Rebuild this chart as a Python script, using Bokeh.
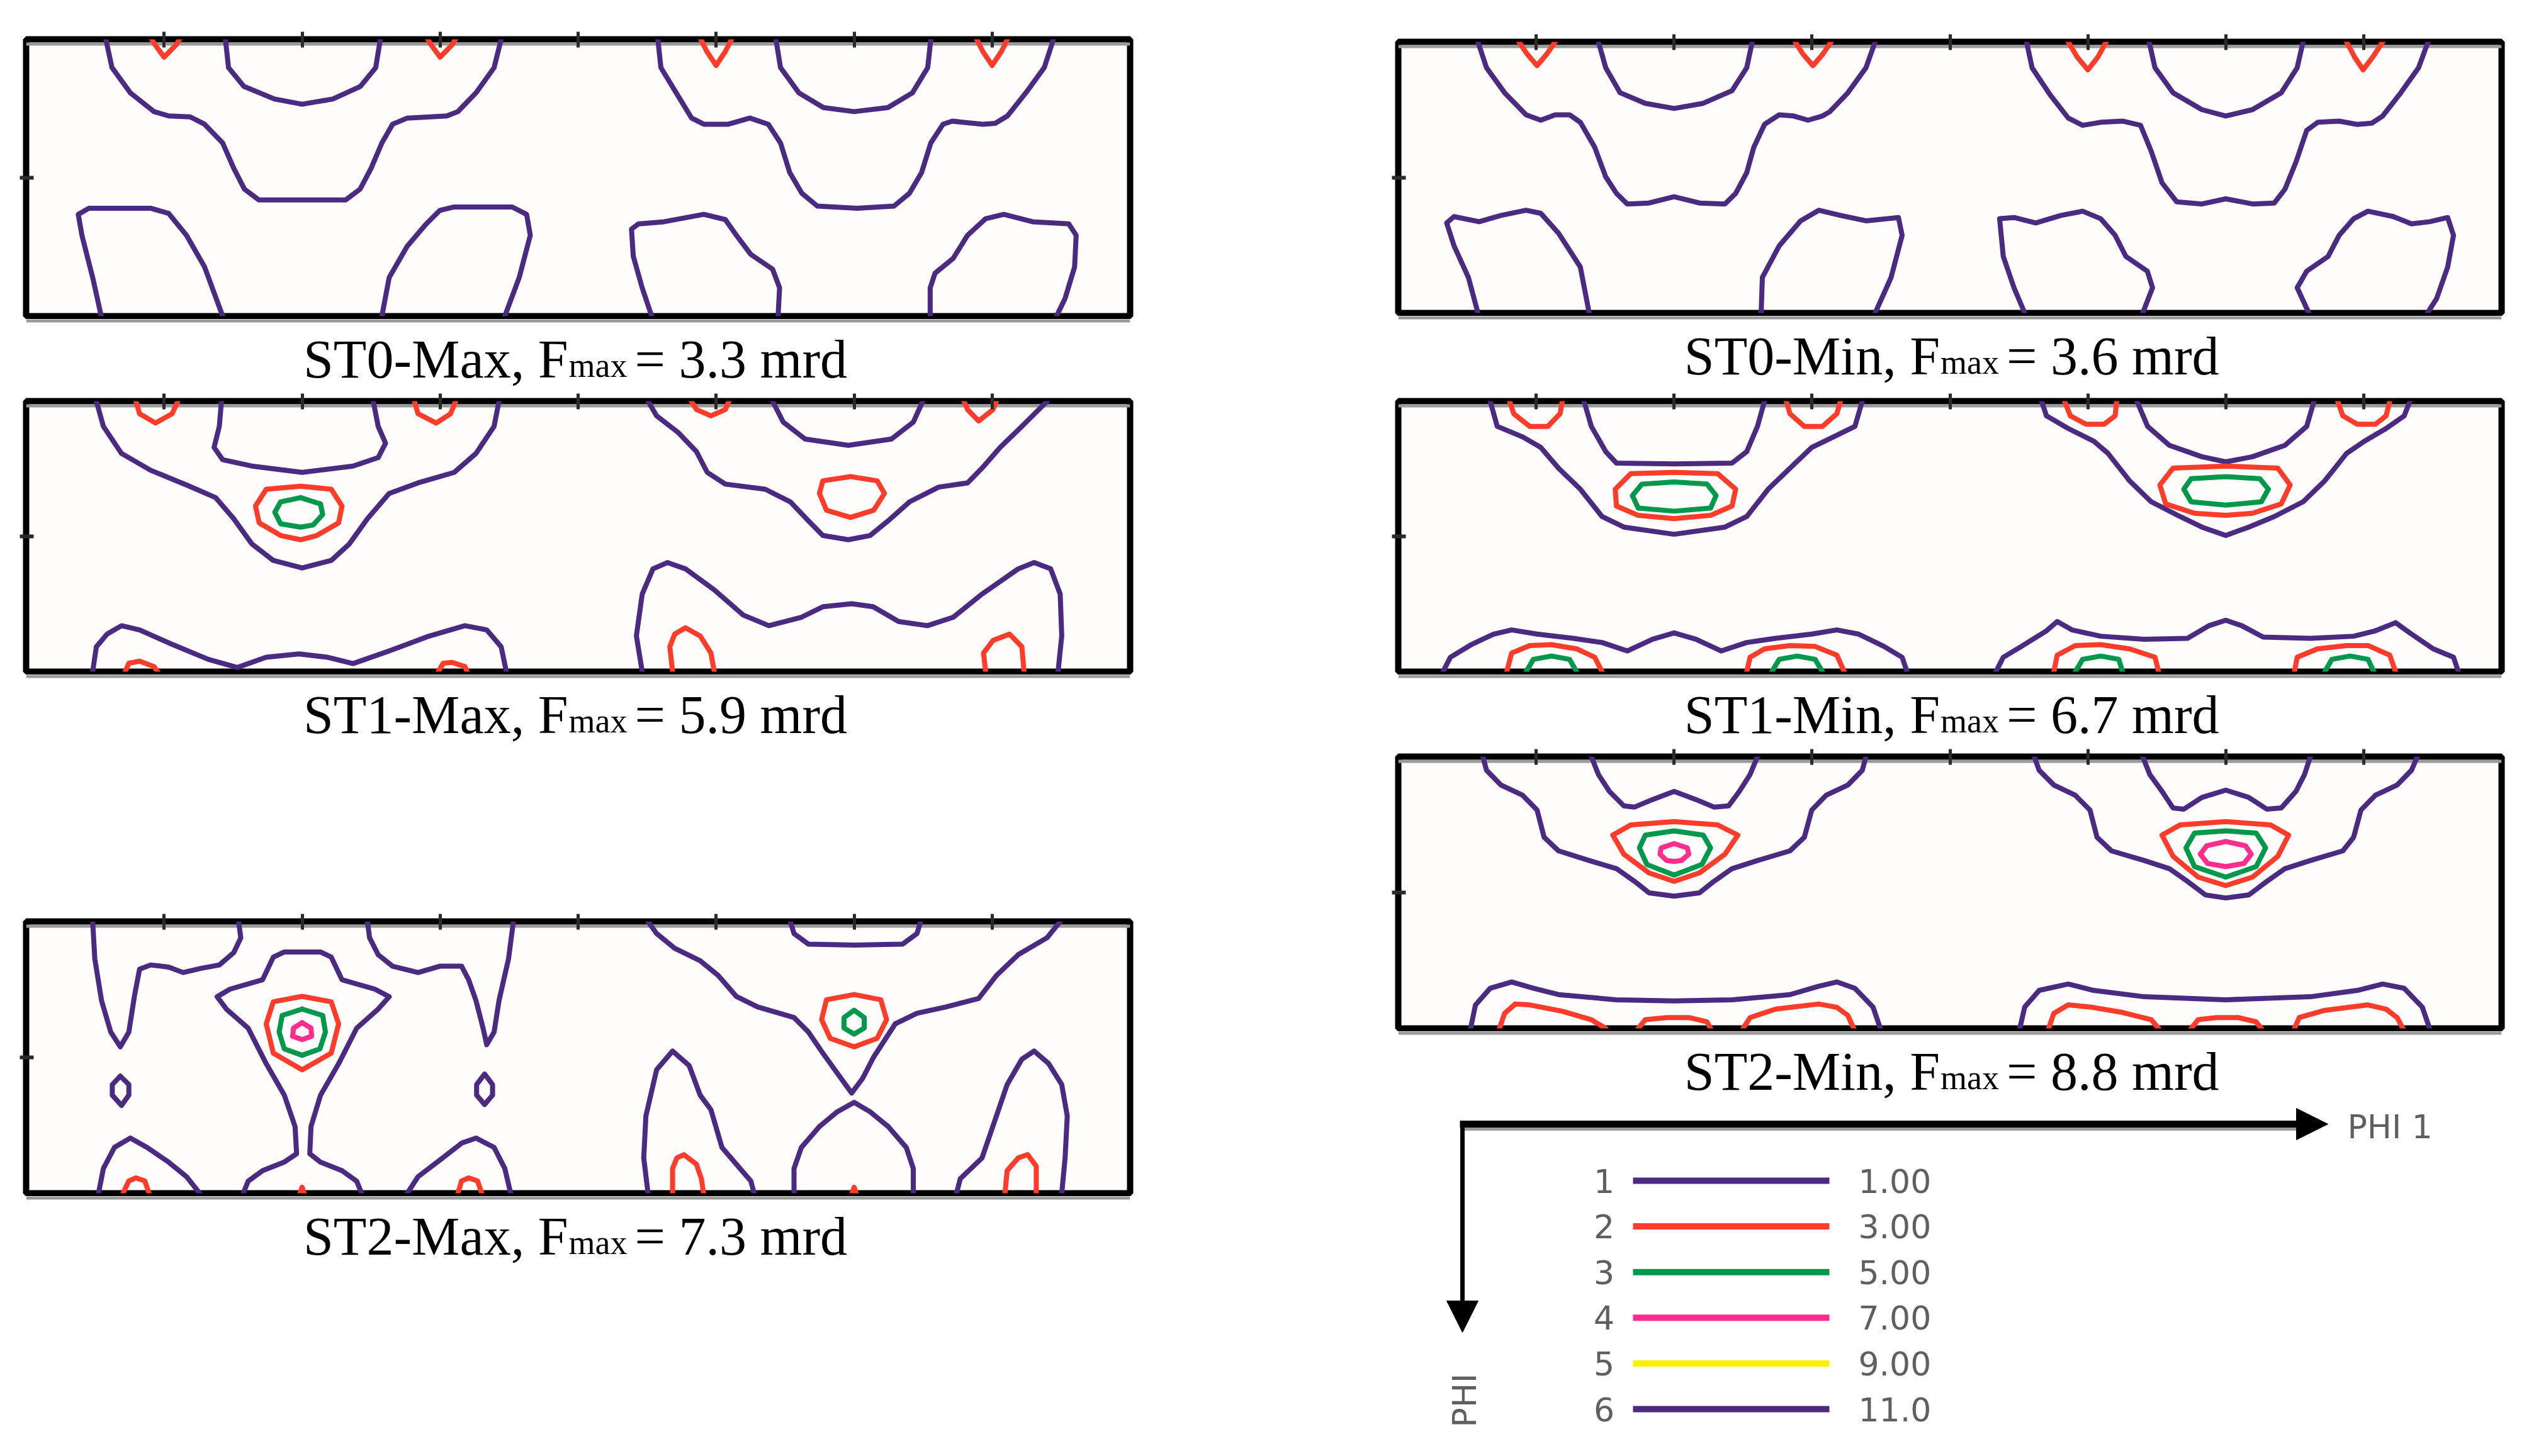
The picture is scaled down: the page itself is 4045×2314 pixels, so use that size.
from math import pi
from bokeh.plotting import figure
from bokeh.models import (Range1d, LinearAxis, FixedTicker, CustomJSTickFormatter,
                          Label, Arrow, NormalHead, BoxAnnotation)
from bokeh.layouts import row, column
from bokeh.core.properties import value
from bokeh.embed import file_html
from bokeh.resources import INLINE

# ---------------- data ----------------
LEVELS = [1, 2, 3, 4, 5, 6]
LEVEL_VALUES = ["1.00", "3.00", "5.00", "7.00", "9.00", "11.0"]
LEVEL_COLORS = ["#4b2a82", "#ff3b2a", "#00984a", "#ff2d8c", "#fff000", "#4b2a82"]

PHI1_TICKS = [45, 90, 135, 180, 225, 270, 315]
PHI_TICKS = [45]

PANEL_NAMES = ["ST0-Max", "ST1-Max", "ST2-Max", "ST0-Min", "ST1-Min", "ST2-Min"]
FMAX = [3.3, 5.9, 7.3, 3.6, 6.7, 8.8]

# contour lines: (level, phi1 [deg], PHI [deg])
ST0_MAX = [
    (1, [26, 28, 34, 41.7, 46.5, 53.5, 58.2, 64.1, 67.7, 71.2, 75.9, 90, 104.2, 108.9, 112.5, 116, 119.5, 124.3, 137.2, 140.8, 146.7, 152.6, 154.9],
        [0, 9.2, 17.4, 23.5, 24.9, 25.2, 27.6, 33.7, 41.9, 48.7, 52.2, 52.2, 52.2, 48.7, 41.9, 33.7, 27.6, 25.6, 24.9, 23.5, 17.4, 9.2, 0]),
    (1, [65, 66, 71, 81, 90, 100, 109, 114, 115.5], [0, 9.2, 15.3, 19.4, 21.1, 19.4, 15.3, 9.2, 0]),
    (2, [41, 42, 45, 49, 50], [0, 1.7, 5.8, 1.7, 0]),
    (2, [131, 132, 135, 139, 140], [0, 1.7, 5.8, 1.7, 0]),
    (1, [206, 207, 212, 217, 221, 229, 236, 242, 246, 249, 253, 258, 271, 283, 288, 292, 295, 299, 302, 312, 316, 320, 326, 332, 335],
        [0, 9.2, 17.4, 25.6, 27.6, 27.6, 25.6, 27.6, 33.7, 43.3, 50.1, 54.2, 54.9, 54.2, 50.1, 43.3, 33.7, 27.6, 26.6, 27.6, 27.3, 24.9, 17.4, 9.2, 0]),
    (1, [244.5, 246, 252, 260, 270, 281, 289, 294, 295], [0, 9.2, 17.4, 22.2, 23.5, 22.2, 17.4, 9.2, 0]),
    (2, [220, 222, 225, 228, 230], [0, 4, 8.5, 4, 0]),
    (2, [310, 312, 315, 318, 320], [0, 4, 8.5, 4, 0]),
    (1, [24.5, 21.7, 18.2, 17, 20.5, 40.6, 46.5, 52.3, 58.2, 64.1], [90, 77.4, 63.7, 56.9, 54.9, 54.9, 56.6, 63.7, 74, 90]),
    (1, [116, 118.4, 124.3, 130.2, 134.9, 139.6, 158.5, 163.2, 164.4, 160.8, 156.1], [90, 77.4, 67.2, 60.3, 55.6, 54.5, 54.5, 56.9, 63.7, 77.4, 90]),
    (1, [204, 200.9, 198, 197.4, 199.7, 208, 221, 228, 231.6, 236.3, 243.4, 245.7, 245.2],
        [90, 80.8, 70.6, 61.7, 60, 59.3, 56.9, 58.6, 63.7, 69.9, 74.7, 80.8, 90]),
    (1, [294.8, 294.8, 296.4, 302.3, 307, 312.9, 318.8, 328.2, 340, 342.4, 341.9, 338.8, 336],
        [90, 80.8, 76, 71.2, 63.7, 58.3, 56.9, 59.3, 60, 63.7, 74, 84.2, 90]),
]

ST0_MIN = [
    (1, [26, 28.8, 34.7, 41.7, 46.5, 51.2, 55.9, 59.4, 64.1, 67.7, 71.2, 74.7, 81.8, 90, 98.3, 106.6, 110.1, 113.7, 116, 119.5, 124.3, 129, 133.7, 138.4, 140.8, 146.7, 152.6, 155.6],
        [0, 8.6, 16.9, 24.2, 26, 24.2, 24.2, 26.7, 35, 44.8, 50.3, 53.8, 53.5, 51.4, 53.5, 53.8, 50.3, 43.4, 35, 27.4, 24.2, 24.6, 26, 24.6, 23.2, 16.9, 8.6, 0]),
    (1, [65.3, 67.7, 72.4, 80.6, 90, 99.5, 108.9, 113.7, 115.5], [0, 8.6, 16.9, 20.4, 22.1, 20.4, 16.2, 8.6, 0]),
    (2, [39.4, 42, 45.3, 48.5, 51.2], [0, 4, 7.9, 4, 0]),
    (2, [129.5, 132, 135.3, 138.6, 141.2], [0, 4, 7.9, 4, 0]),
    (1, [205, 206.8, 212.7, 218.6, 223.3, 229.2, 236.3, 242.2, 245.7, 249.2, 254, 262.2, 270, 278.7, 285.8, 289.3, 292.9, 296.4, 300, 307, 312.9, 317.6, 321.2, 327.1, 332.9, 336],
        [0, 8.6, 17.6, 25.3, 27.7, 26.7, 26.3, 27.7, 36.4, 46.8, 53.1, 53.8, 52.1, 53.8, 53.5, 48.9, 39.9, 29.4, 26.7, 26.3, 27.4, 27, 24.6, 16.9, 8.6, 0]),
    (1, [245, 246.9, 252.8, 262.2, 270, 278.7, 288.1, 293.3, 295.2], [0, 8.6, 16.9, 22.5, 24.6, 22.5, 16.9, 8.6, 0]),
    (2, [218.6, 221.5, 225, 228.3, 231], [0, 5, 9.3, 5, 0]),
    (2, [309.4, 312, 314.8, 318, 321.2], [0, 5, 9.3, 5, 0]),
    (1, [26, 22.9, 18.2, 15.8, 18.2, 26.4, 33.5, 41.7, 46.5, 52.3, 59.4, 62.3], [90, 78.2, 67.7, 60.1, 58, 59.7, 57.6, 55.9, 56.9, 63.5, 74.7, 90]),
    (1, [118.4, 118.8, 124.3, 131.3, 137.2, 144.3, 152.6, 163.2, 164.4, 160.8, 155.6], [90, 78.2, 67.7, 59.4, 55.9, 57.6, 59.4, 58.3, 64.2, 78.2, 90]),
    (1, [204.4, 200.9, 197.4, 196.2, 200.9, 208, 216.2, 223.3, 229.2, 233.9, 237.4, 244.4, 246.1, 242.9],
        [90, 81.6, 71.2, 58.7, 58.3, 60.1, 57.6, 56.2, 58.7, 64.2, 71.2, 76.1, 81.6, 90]),
    (1, [297.1, 293.3, 296.4, 303.4, 307, 311.7, 316.4, 324.7, 330.6, 336.5, 342.4, 344.3, 342.4, 338.8, 335.8],
        [90, 81.6, 76.1, 71.2, 64.2, 58.7, 56.2, 58, 60.4, 59.7, 58.3, 64.2, 74.7, 85.2, 90]),
]

ST1_MAX = [
    (1, [22.9, 25.2, 31.1, 40.6, 52.3, 61.8, 67.7, 73.6, 80.6, 90, 99.5, 105.4, 111.3, 118.4, 127.8, 139.6, 146.7, 152.6, 154.2],
        [0, 8.4, 17.4, 23, 27.9, 32.1, 39.1, 47.5, 53, 55.5, 53, 47.5, 39.1, 30.7, 27.2, 23.7, 17.4, 8.4, 0]),
    (1, [63.7, 63, 61.3, 64.1, 73.6, 90, 106.6, 114.8, 117.2, 114.8, 113.2], [0, 8.4, 15.4, 19.5, 21.6, 23.7, 21.6, 18.8, 14, 8.4, 0]),
    (2, [35.8, 37, 42.2, 47.6, 49.5], [0, 4.2, 7.3, 4.2, 0]),
    (2, [126.6, 127.8, 133.7, 138.4, 140.1], [0, 4.2, 7.3, 4.2, 0]),
    (2, [89.5, 99.5, 103, 101.9, 94.8, 89.5, 83, 76, 74.8, 78.3, 89.5], [28.3, 29.3, 34.9, 40.5, 44.7, 46.1, 44.7, 40.5, 34.9, 29.3, 28.3]),
    (3, [89.5, 96, 96.7, 93.6, 89.5, 83, 81.1, 83, 89.5], [32.1, 34.2, 37.7, 41.2, 41.9, 40.8, 37, 33.5, 32.1]),
    (1, [202.8, 205.6, 212.7, 218.6, 222.1, 228, 241, 249.2, 255.1, 259.8, 268.1, 275.2, 281.1, 288.1, 297.6, 307, 311.7, 317.6, 324.7, 333],
        [0, 4.9, 10.5, 16.8, 23.7, 27.6, 29.3, 33.5, 39.8, 44.7, 46.1, 44.7, 39.8, 33.5, 28.6, 27.2, 22.3, 15.4, 8.4, 0]),
    (1, [243.4, 246.9, 254, 268.1, 282.2, 289.3, 292.4], [0, 7, 12.6, 14.7, 12.6, 7, 0]),
    (2, [216.9, 218.6, 223.3, 228, 229.2], [0, 2.8, 4.9, 2.8, 0]),
    (2, [305.8, 307, 310.6, 315.3, 316.4], [0, 2.8, 6.6, 2.8, 0]),
    (2, [268.8, 277.5, 279.9, 276.4, 268.8, 261, 258.7, 259.8, 268.8], [25.1, 26.5, 30.7, 36.3, 38.7, 36.3, 30.7, 26.5, 25.1]),
    (1, [21.7, 22.9, 26.4, 31.1, 37, 47.6, 59.4, 68.9, 78.3, 89, 98.3, 106.6, 118.4, 131.3, 143.1, 150.2, 154.9, 156.6],
        [90, 81.7, 77.5, 74.7, 76.1, 80.9, 85.9, 88.6, 85.2, 84.1, 85.2, 87.3, 83.1, 78.2, 74.7, 76.1, 81.7, 90]),
    (2, [32.3, 33.5, 37, 41.7, 42.9], [90, 87.2, 86.5, 88.3, 90]),
    (2, [134.4, 136, 138.9, 143.1, 143.8], [90, 87.2, 86.9, 88.3, 90]),
    (1, [200.9, 199, 200.9, 204.4, 209.1, 215, 224.4, 233.9, 242.2, 252.8, 259.8, 269.2, 276.2, 284.5, 293.9, 302.3, 311.7, 323.5, 328.7, 334.1, 337.2, 337.7, 336.5],
        [90, 78.1, 64.2, 55.8, 53.7, 55.8, 62.8, 71.2, 74.7, 71.9, 68.4, 67.4, 68.4, 73.3, 74.7, 71.9, 64.2, 55.8, 53.7, 55.8, 64.2, 78.1, 90]),
    (2, [210.8, 209.9, 211.5, 215, 219.8, 223.3, 224.4], [90, 81.7, 77.5, 75.4, 78.1, 83.8, 90]),
    (2, [312.9, 312.2, 315.3, 320.7, 324.7, 325.4], [90, 83.8, 79.6, 77.5, 81.7, 90]),
]

ST1_MIN = [
    (1, [30, 32.3, 40.6, 46.5, 52.3, 59.4, 66.5, 73.6, 90, 106.6, 113.7, 120.7, 127.8, 134.9, 142, 149, 151.4],
        [0, 8.4, 11.9, 15.4, 22.3, 29.3, 38.4, 41.9, 44.3, 41.9, 38.4, 29.3, 22.3, 15.4, 11.9, 8.4, 0]),
    (1, [60.6, 63, 67.7, 71.2, 90, 108.9, 113.7, 117.2, 119.5], [0, 8.4, 16.8, 20.6, 20.9, 20.6, 16.8, 8.4, 0]),
    (2, [36.3, 37.7, 42.9, 48.8, 52.8, 53.5], [0, 4.2, 8.4, 8.4, 4.2, 0]),
    (2, [126.6, 127.8, 132.5, 138.4, 143.1, 144.3], [0, 4.2, 8.4, 8.4, 4.2, 0]),
    (2, [90, 104.2, 110.1, 108.9, 101.9, 90, 78.3, 71.2, 70.8, 75.9, 90], [23.7, 24.1, 29.3, 34.9, 38, 39.1, 38, 34.9, 29.3, 24.1, 23.7]),
    (3, [90, 100.7, 103.7, 101.9, 90, 78.3, 76.4, 79.5, 90], [26.9, 27.6, 31.4, 35.6, 36.6, 35.6, 31.4, 27.6, 26.9]),
    (1, [209.9, 211.5, 218.6, 226.9, 231.6, 238.6, 245.7, 255.1, 262.2, 270, 277.5, 285.8, 295.2, 302.3, 309.4, 315.3, 322.3, 328.2, 330.1],
        [0, 4.9, 9.1, 13.3, 17.4, 26.5, 33.5, 38.4, 41.9, 44.7, 41.9, 38.4, 33.5, 26.5, 17.4, 13.3, 9.1, 4.9, 0]),
    (1, [241, 244.5, 251.6, 262.2, 270, 278.7, 289.3, 296.4, 298.8], [0, 8.4, 14.7, 18.5, 20.2, 18.5, 14.7, 8.4, 0]),
    (2, [217.4, 219.3, 224.4, 230.3, 233.9, 234.4], [0, 4.9, 7.7, 7.7, 4.9, 0]),
    (2, [306.5, 308.2, 312.9, 318.8, 322.3, 323.5], [0, 4.9, 7.7, 7.7, 4.9, 0]),
    (2, [270, 287, 291, 288.1, 278.7, 270, 259.8, 250.4, 248.5, 252.8, 270], [21.6, 22.3, 27.9, 34.2, 37.3, 38, 37.3, 34.2, 27.9, 22.3, 21.6]),
    (3, [270, 281.1, 283.9, 281.6, 270, 258.7, 256.3, 258.7, 270], [25.1, 25.8, 29.3, 33.5, 34.6, 33.5, 29.3, 25.8, 25.1]),
    (1, [14.6, 17, 24, 31.1, 37, 45.3, 57.1, 66.5, 74.7, 83, 90, 97.1, 105.4, 113.7, 123.1, 134.9, 143.1, 150.2, 158.5, 164.4, 166],
        [90, 85.2, 80.9, 77.5, 76.1, 77.5, 78.9, 80.3, 83.1, 79.2, 77.1, 79.2, 83.1, 80.3, 78.9, 77.5, 76.1, 77.5, 81.6, 85.2, 90]),
    (2, [35.4, 37, 42.9, 50, 58.2, 64.1, 66.5], [90, 83.8, 81.3, 81, 82.4, 85.2, 90]),
    (2, [113.7, 114.8, 119.5, 127.8, 136, 143.1, 145.5], [90, 85.2, 82.4, 81.3, 81.6, 84.5, 90]),
    (3, [41.7, 44.1, 50, 55.9, 58.2], [90, 85.9, 84.8, 85.9, 90]),
    (3, [121.9, 124.3, 130.2, 136, 138.4], [90, 85.9, 84.8, 85.9, 90]),
    (1, [195, 197.4, 203.3, 211.5, 215, 219.8, 229.2, 243.4, 257.5, 264.5, 270, 275.2, 282.2, 297.6, 311.7, 318.8, 325.4, 330.6, 337.7, 344.3, 345.9],
        [90, 85.2, 81.6, 76.4, 73.3, 76.1, 78.2, 79.2, 78.9, 74.7, 72.9, 74.7, 78.5, 78.9, 78.2, 76.4, 73.7, 77.5, 82.4, 85.2, 90]),
    (2, [213.9, 215, 220.9, 229.2, 238.6, 246.9, 248.1], [90, 84.5, 81.3, 81, 82.4, 85.2, 90]),
    (2, [292.4, 293.3, 299.9, 309.4, 316.4, 323.5, 325.4], [90, 85.2, 82.4, 81.3, 81.3, 84.5, 90]),
    (3, [220.9, 223.3, 229.2, 235.1, 236.3], [90, 85.9, 84.8, 85.9, 90]),
    (3, [302.3, 304.6, 310.6, 316.4, 318.3], [90, 85.9, 84.8, 85.9, 90]),
]

ST2_MAX = [
    (1, [21.7, 22.4, 24.6, 27.6, 30.7, 33.5, 35.4, 37, 40.6, 46.5, 51.2, 57.1, 63, 67.7, 70, 69.3],
        [0, 12.4, 26.2, 36.6, 41.5, 36.6, 24.2, 15.8, 14.4, 15.1, 16.9, 15.5, 14.4, 10.3, 5.4, 0]),
    (1, [111.3, 112, 114.8, 119.5, 127.8, 134.9, 142, 144.3, 146.7, 149, 150.2, 152.6, 154.2, 157.3, 158.9],
        [0, 5.4, 11, 14.8, 16.9, 14.8, 14.8, 19.3, 26.2, 35.3, 40.8, 36.6, 26.2, 12.4, 0]),
    (1, [70.8, 72.4, 77.1, 84.1, 88.2, 87.7, 84.2, 78.3, 72.4, 65.3, 62.3, 66.5, 77.1, 80.6, 84.2, 96, 99.5, 103, 113.7, 118.4, 114.8, 107.8, 101.9, 96, 92.9, 92.5, 96, 103, 107.8, 109.4],
        [90, 86, 82.5, 79.7, 76.9, 67.9, 57.5, 47.1, 35.3, 29, 24.9, 22.4, 19.3, 11.8, 10.1, 10.1, 11.8, 19.3, 22.4, 24.9, 29, 35.3, 47.1, 57.5, 67.9, 76.9, 79.7, 82.5, 86, 90]),
    (2, [90, 99.5, 101.9, 99.5, 90, 80.6, 78.3, 80.6, 90], [24.8, 26.6, 33.9, 43.6, 49.1, 43.6, 33.9, 26.6, 24.8]),
    (3, [90, 96.7, 97.6, 95.8, 90, 84.2, 82.5, 83.5, 90], [29, 31.1, 36.6, 42.2, 44.3, 42.2, 36.6, 31.1, 29]),
    (4, [90, 92.9, 93.1, 90, 86.9, 87.2, 90], [33.5, 35.3, 38, 39.1, 38, 35.3, 33.5]),
    (1, [30.7, 33.5, 33.5, 31.1, 28.1, 28.1, 30.7], [51.2, 54, 57.5, 60.9, 57.5, 54, 51.2]),
    (1, [149.5, 152.1, 152.1, 149.5, 146.9, 146.9, 149.5], [50.5, 54, 57.5, 60.6, 57.5, 54, 50.5]),
    (1, [23.6, 25.2, 28.8, 34, 39.4, 46.5, 52.3, 56.6], [90, 81.8, 74.8, 71.7, 74.8, 79.7, 84.5, 90]),
    (1, [124.3, 127.8, 134.9, 142, 146.7, 152.6, 156.1, 158], [90, 84.5, 79, 73.4, 71.7, 74.8, 81.8, 90]),
    (2, [31.6, 33.5, 35.8, 38.7, 40.1], [90, 85.9, 84.9, 85.9, 90]),
    (2, [140.8, 142, 144.3, 147.2, 148.6], [90, 85.9, 84.9, 85.9, 90]),
    (2, [89.3, 90, 90.7], [90, 88, 90]),
    (2, [269.3, 270, 270.7], [90, 88, 90]),
    (1, [202.8, 205.6, 211.5, 219.8, 225.7, 231.6, 238.6, 250.4, 255.1, 259.8, 265.7, 269.2, 272.8, 276.3, 283.4, 290.5, 299.9, 310.6, 316.4, 323.5, 332.9, 337.2],
        [0, 4, 8.9, 13, 17.9, 24.8, 28.3, 31.8, 36.6, 43.6, 51.9, 56.8, 51.9, 45, 33.9, 30.4, 28.3, 25.5, 17.9, 11, 5.4, 0]),
    (1, [249.2, 250.4, 255.1, 270, 285.8, 290.5, 291.7], [0, 4, 7.5, 7.8, 7.5, 4, 0]),
    (2, [270, 278.7, 280.6, 277.5, 270, 262.2, 259.4, 261, 270], [24.2, 25.9, 32.5, 38.7, 41.5, 38.7, 32.5, 25.9, 24.2]),
    (3, [270, 273.3, 273.3, 270, 266.7, 266.7, 270], [29.4, 31.8, 35.3, 37.3, 35.3, 31.8, 29.4]),
    (1, [250.4, 250.4, 252.8, 258.7, 264.5, 270, 275.2, 281.1, 287, 289.3, 289.3], [90, 81.8, 74.8, 67.9, 63, 59.9, 63, 67.9, 74.8, 81.8, 90]),
    (1, [202.8, 201.4, 202.1, 205.6, 210.8, 216.2, 219.8, 223.3, 226.9, 232.8, 236.3, 237.4],
        [90, 78.3, 64.4, 49.1, 42.9, 47.7, 57.5, 62.3, 74.8, 81.8, 85.9, 90]),
    (1, [303.4, 304.6, 311.7, 316.4, 319.9, 324.7, 328.7, 333.4, 337.7, 339.5, 338.8, 337.7],
        [90, 85.2, 78.3, 64.4, 54, 45.6, 42.9, 47, 54, 64.4, 78.3, 90]),
    (2, [210.8, 210.8, 212.2, 214.5, 218.6, 220.2, 220.9], [90, 81.8, 78.3, 77.2, 80.4, 85.2, 90]),
    (2, [319.2, 319.9, 323.5, 326.6, 329.4, 329.4], [90, 82.5, 78.3, 77.2, 81, 90]),
]

ST2_MIN = [
    (1, [27.6, 28.8, 33.5, 40.6, 45.3, 47.6, 52.3, 62.3, 71.2, 77.1, 81.8, 90, 98.3, 103, 108.9, 117.2, 127.8, 132.5, 134.9, 139.6, 146.7, 151.4, 152.6],
        [0, 4.5, 9.4, 12.8, 17.7, 26.7, 31.2, 34.4, 37.1, 41.3, 45.1, 46.2, 45.1, 41.3, 37.1, 34.4, 31.2, 26.7, 17.7, 12.8, 9.4, 4.5, 0]),
    (1, [63, 65.3, 68.9, 73.6, 77.1, 83, 90, 97.1, 103, 107.8, 111.3, 114.8, 117.2], [0, 5.9, 11.5, 16.3, 16.7, 14.2, 11.5, 14.2, 16.7, 16.3, 11.5, 5.9, 0]),
    (2, [90, 104.2, 110.8, 106.6, 98.3, 90, 81.8, 73.6, 70, 75.9, 90], [21.5, 22.6, 26, 32.3, 38.5, 41.3, 38.5, 32.3, 26, 22.6, 21.5]),
    (3, [90, 99.5, 101.9, 99.1, 90, 81.1, 78.7, 80.6, 90], [24.6, 26, 30.2, 35.7, 39.2, 35.7, 30.2, 26, 24.6]),
    (4, [90, 94.3, 94.8, 92.4, 90, 87.6, 85.4, 85.8, 90], [28.8, 30.2, 32.3, 34.4, 34.7, 34.4, 32.3, 30.2, 28.8]),
    (1, [207.5, 209.1, 213.9, 220.9, 225.7, 228, 232.7, 243.4, 251.6, 257.5, 263.4, 270, 277.5, 283.4, 289.3, 297.6, 308.2, 311.7, 314.1, 318.8, 325.9, 330.6, 332.5],
        [0, 4.5, 9.4, 12.8, 17.7, 26.7, 31.2, 34.4, 37.1, 41.3, 45.8, 46.8, 45.8, 41.3, 37.1, 34.4, 31.2, 26.7, 17.7, 12.8, 9.4, 4.5, 0]),
    (1, [242.9, 245.2, 249.2, 252.8, 256.3, 262.2, 270, 277.5, 283.4, 288.1, 292.9, 295.7, 297.6], [0, 5.9, 11.5, 17, 17.4, 13.5, 11.1, 13.5, 17.4, 17, 11.5, 5.9, 0]),
    (2, [270, 284.6, 290.5, 287, 278.7, 270, 261, 252.8, 249.2, 255.1, 270], [21.5, 22.6, 26, 33, 39.9, 42.7, 39.9, 33, 26, 22.6, 21.5]),
    (3, [270, 279.9, 283, 279.9, 270, 259.8, 257, 259.8, 270], [24.6, 25.3, 30.2, 36.4, 39.9, 36.4, 30.2, 25.3, 24.6]),
    (4, [270, 276.4, 278.3, 275.9, 270, 264.1, 261.7, 263.8, 270], [28.1, 29.5, 32.3, 35.4, 36.4, 35.4, 32.3, 29.5, 28.1]),
    (1, [23.6, 25.2, 30, 37, 44.1, 52.3, 71.2, 90, 108.9, 127.8, 137.2, 143.1, 149, 154.9, 157.3],
        [90, 82.2, 76.7, 74.6, 76.7, 78.8, 80.5, 80.9, 80.5, 78.8, 76, 74.6, 76.7, 82.9, 90]),
    (2, [33, 34.7, 38.2, 42.9, 53.5, 63, 67.7], [90, 85, 81.9, 82.2, 84.3, 87.1, 90]),
    (2, [78.3, 80.6, 87.7, 94.8, 100.7, 101.9], [90, 87.1, 86.4, 86.4, 87.8, 90]),
    (2, [112.5, 114.8, 123.1, 137.2, 143.1, 146.7, 148.6], [90, 86.4, 83.6, 81.9, 83, 85.7, 90]),
    (1, [202.8, 204.4, 209.1, 218.6, 226.9, 243.4, 270, 297.6, 312.9, 321.2, 328.2, 334.1, 336.5],
        [90, 82.9, 77.4, 75.3, 77.4, 79.5, 80.5, 79.5, 77.4, 75.3, 76.7, 82.9, 90]),
    (2, [212.2, 213.9, 218.6, 225.7, 236.3, 245.7, 248.1], [90, 85, 82.2, 82.9, 84.7, 87.1, 90]),
    (2, [258.7, 261, 266.9, 274, 279.9, 281.6], [90, 87.1, 86.4, 86.4, 87.8, 90]),
    (2, [292.4, 294, 302.3, 316.4, 322.3, 325.9, 327.8], [90, 86.4, 84, 82.2, 83.6, 86.4, 90]),
]

# ---------------- drawing ----------------
TITLE_FONT = "Liberation Serif"
SHADOW = "#9a9a9a"
CAP_H = 115          # caption strip height (px)
MAIN_SIZE, SUB_SIZE = 86, 54
MAIN_Y, SUB_Y = 63, 73   # vertical centres so both sit on a common baseline


def blank_fig(width, height, left, right, x_range, y_range):
    f = figure(width=width, height=height, x_range=x_range, y_range=y_range,
               x_axis_location=None, y_axis_location=None,
               toolbar_location=None, output_backend="svg",
               min_border_left=left, min_border_right=right,
               min_border_top=0, min_border_bottom=0)
    f.grid.visible = False
    f.outline_line_color = None
    f.background_fill_color = "white"
    f.border_fill_color = "white"
    return f


def make_panel(curves, left, top, frame_w, frame_h, right):
    p = figure(width=left + frame_w + right, height=top + frame_h + 5,
               x_range=Range1d(0, 360), y_range=Range1d(90, 0),
               x_axis_location=None, y_axis_location=None,
               toolbar_location=None, output_backend="svg",
               min_border_left=left, min_border_right=right,
               min_border_top=top, min_border_bottom=5)
    p.grid.visible = False
    p.background_fill_color = "#fefdfc"
    p.border_fill_color = "white"
    p.outline_line_color = "black"
    p.outline_line_width = 10
    p.outline_line_alpha = 1.0

    # grey shadow under the top border (5-10 px below the frame top)
    px = 90.0 / frame_h
    p.add_layout(BoxAnnotation(top=5 * px, bottom=10 * px, fill_color=SHADOW,
                               fill_alpha=1.0, line_color=None, level="underlay"))

    for lvl, xs, ys in curves:
        p.line(xs, ys, line_color=LEVEL_COLORS[lvl - 1], line_width=8,
               line_join="round", line_cap="round")

    blank = CustomJSTickFormatter(code="return ''")
    top_ax = LinearAxis(ticker=FixedTicker(ticks=PHI1_TICKS), formatter=blank,
                        axis_line_color=None, major_tick_in=13, major_tick_out=12,
                        major_tick_line_width=5, major_tick_line_color="#2a2a2a",
                        minor_tick_line_color=None, major_label_standoff=0,
                        major_label_text_font_size="0px")
    p.add_layout(top_ax, "above")
    left_ax = LinearAxis(ticker=FixedTicker(ticks=PHI_TICKS), formatter=blank,
                         axis_line_color=None, major_tick_in=12, major_tick_out=10,
                         major_tick_line_width=6, major_tick_line_color="#2a2a2a",
                         minor_tick_line_color=None, major_label_standoff=0,
                         major_label_text_font_size="0px")
    p.add_layout(left_ax, "left")
    return p


def make_caption(name, fmax, left, frame_w, right):
    c = blank_fig(left + frame_w + right, CAP_H, left, right,
                  Range1d(0, 360), Range1d(CAP_H, 0))
    # grey shadow under the bottom border of the panel above
    c.quad(left=0, right=360, top=0, bottom=5, fill_color=SHADOW, line_color=None)
    common = dict(x=[180], text_baseline="middle",
                  text_font=value(TITLE_FONT), text_color="black")
    c.text(y=[MAIN_Y], text=[f"{name}, F"], x_offset=-16, text_align="right",
           text_font_size=f"{MAIN_SIZE}px", **common)
    c.text(y=[SUB_Y], text=["max"], x_offset=-15, text_align="left",
           text_font_size=f"{SUB_SIZE}px", **common)
    c.text(y=[MAIN_Y], text=[f"= {fmax} mrd"], x_offset=90, text_align="left",
           text_font_size=f"{MAIN_SIZE}px", **common)
    return c


LL, LR, FW_L = 41, 100, 1754
RL, RR, FW_R = 326, 40, 1753

left_col = column(
    make_panel(ST0_MAX, LL, 62, FW_L, 440, LR), make_caption(PANEL_NAMES[0], FMAX[0], LL, FW_L, LR),
    make_panel(ST1_MAX, LL, 15, FW_L, 430, LR), make_caption(PANEL_NAMES[1], FMAX[1], LL, FW_L, LR),
    make_panel(ST2_MAX, LL, 277, FW_L, 432, LR), make_caption(PANEL_NAMES[2], FMAX[2], LL, FW_L, LR),
)

# ---------------- legend / axes key (frame-local pixel coordinates) ----------------
LH = 546
lg = blank_fig(RL + FW_R + RR, LH, RL, RR, Range1d(0, FW_R), Range1d(LH, 0))

row_y = [122 + i * 72.6 for i in range(len(LEVELS))]
lg.segment(x0=373, y0=row_y, x1=685, y1=row_y, line_color=LEVEL_COLORS, line_width=10)
lg.text(x=327, y=row_y, text=[str(v) for v in LEVELS], text_align="center",
        text_baseline="middle", text_font=value("DejaVu Sans"),
        text_font_size="52px", text_color="#5f5f5f")
lg.text(x=731, y=row_y, text=LEVEL_VALUES, text_align="left",
        text_baseline="middle", text_font=value("DejaVu Sans"),
        text_font_size="52px", text_color="#5f5f5f")

# grey shadow under the PHI 1 arrow shaft
lg.segment(x0=104, y0=40, x1=1440, y1=40, line_color=SHADOW, line_width=5)
lg.add_layout(Arrow(x_start=98, y_start=32, x_end=1477, y_end=32, line_width=11,
                    line_color="black",
                    end=NormalHead(size=50, fill_color="black", line_color="black")))
lg.add_layout(Arrow(x_start=102, y_start=28, x_end=102, y_end=363, line_width=7,
                    line_color="black",
                    end=NormalHead(size=50, fill_color="black", line_color="black")))
lg.add_layout(Label(x=1508, y=36, text="PHI 1", text_baseline="middle", text_align="left",
                    text_font="DejaVu Sans", text_font_size="52px", text_color="#5f5f5f"))
lg.add_layout(Label(x=105, y=471, text="PHI", angle=pi / 2, text_baseline="middle",
                    text_align="center", text_font="DejaVu Sans", text_font_size="52px",
                    text_color="#5f5f5f"))

right_col = column(
    make_panel(ST0_MIN, RL, 66, FW_R, 431, RR), make_caption(PANEL_NAMES[3], FMAX[3], RL, FW_R, RR),
    make_panel(ST1_MIN, RL, 20, FW_R, 430, RR), make_caption(PANEL_NAMES[4], FMAX[4], RL, FW_R, RR),
    make_panel(ST2_MIN, RL, 15, FW_R, 432, RR), make_caption(PANEL_NAMES[5], FMAX[5], RL, FW_R, RR),
    lg,
)

layout = row(left_col, right_col)

with open("out.html", "w") as f:
    f.write(file_html(layout, INLINE))
